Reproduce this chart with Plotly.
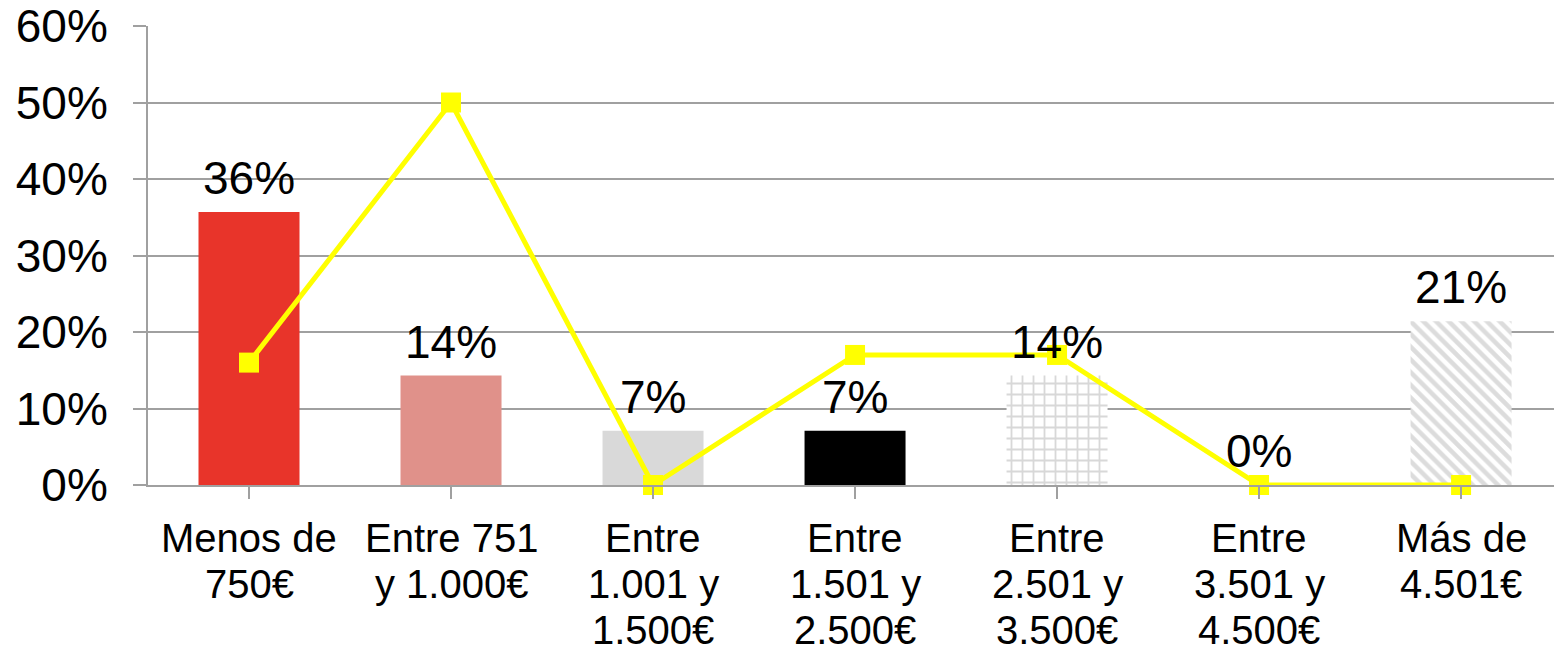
import plotly.graph_objects as go

categories = ["Menos de<br>750€", "Entre 751<br>y 1.000€", "Entre<br>1.001 y<br>1.500€",
              "Entre<br>1.501 y<br>2.500€", "Entre<br>2.501 y<br>3.500€", "Entre<br>3.501 y<br>4.500€",
              "Más de<br>4.501€"]
bar_values = [35.7, 14.3, 7.1, 7.1, 14.3, 0.0, 21.4]
bar_labels = ["36%", "14%", "7%", "7%", "14%", "0%", "21%"]
line_values = [16, 50, 0, 17, 17, 0, 0]
y_ticks = [0, 10, 20, 30, 40, 50, 60]
y_tick_labels = ["0%", "10%", "20%", "30%", "40%", "50%", "60%"]

bar_colors = ["#E8342A", "#E0918A", "#D9D9D9", "#000000", "#D8D8D8", "#FFFFFF", "#DCDCDC"]
# fill style per bar: "" solid, "+" light grid, "\\" light diagonal stripes
bar_patterns = ["", "", "", "", "+", "", "\\"]

x = list(range(len(categories)))
FONT = "Liberation Sans, Arial, sans-serif"

fig = go.Figure()
pattern_style = {
    "+": dict(shape="+", size=11, solidity=0.3),
    "\\": dict(shape="\\", size=9, solidity=0.5),
}
for shape in ["", "+", "\\"]:
    idx = [i for i, p in enumerate(bar_patterns) if p == shape]
    if shape:
        col = bar_colors[idx[0]]
        pat = dict(pattern_style[shape], fillmode="overlay", fgcolor=col,
                   bgcolor="rgba(255,255,255,1)", fgopacity=1)
        marker = dict(color="#FFFFFF", line=dict(width=0), pattern=pat)
    else:
        marker = dict(color=[bar_colors[i] for i in idx], line=dict(width=0))
    fig.add_trace(go.Bar(
        x=[x[i] for i in idx], y=[bar_values[i] for i in idx], width=0.5,
        marker=marker, showlegend=False, hoverinfo="skip",
    ))
fig.add_trace(go.Scatter(
    x=x, y=line_values, mode="lines+markers",
    line=dict(color="#FFFF00", width=5),
    marker=dict(symbol="square", size=20, color="#FFFF00"),
    showlegend=False, cliponaxis=False,
))

annotations = []
for i, (v, lab) in enumerate(zip(bar_values, bar_labels)):
    annotations.append(dict(x=i, y=v, xref="x", yref="y", text=lab, showarrow=False,
                            yanchor="bottom", yshift=6,
                            font=dict(size=46, family=FONT, color="#000000")))
for i, cat in enumerate(categories):
    for k, line in enumerate(cat.split("<br>")):
        annotations.append(dict(x=i, y=0, xref="x", yref="y", text=line, showarrow=False,
                                yanchor="middle", yshift=-(53 + 46 * k),
                                font=dict(size=40, family=FONT, color="#000000")))

fig.update_layout(
    width=1554, height=653,
    margin=dict(l=148, r=0, t=26, b=168),
    paper_bgcolor="white", plot_bgcolor="white",
    font=dict(family=FONT, color="#000000"),
    annotations=annotations, barmode="overlay",
)
fig.update_xaxes(
    range=[-0.5, 6.46], tickmode="array", tickvals=x, ticktext=[""] * len(x),
    tickson="boundaries", ticks="outside", ticklen=12, tickwidth=2, tickcolor="#A0A0A0",
    showline=True, linecolor="#A0A0A0", linewidth=2, showgrid=False, zeroline=False,
    automargin=False,
)
fig.update_yaxes(
    range=[0, 60], tickmode="array", tickvals=y_ticks, ticktext=y_tick_labels,
    ticks="outside", ticklen=13, tickwidth=2, tickcolor="#A0A0A0",
    tickfont=dict(size=46, family=FONT, color="#000000"), ticklabelstandoff=16,
    showline=True, linecolor="#A0A0A0", linewidth=2,
    showgrid=True, gridcolor="#A0A0A0", gridwidth=2, zeroline=False,
    automargin=False,
)

# remove the default 8px page margin so the figure sits at the window's corner
fig.write_html("out.html", config={"displayModeBar": False},
               post_script="document.body.style.margin='0';")
